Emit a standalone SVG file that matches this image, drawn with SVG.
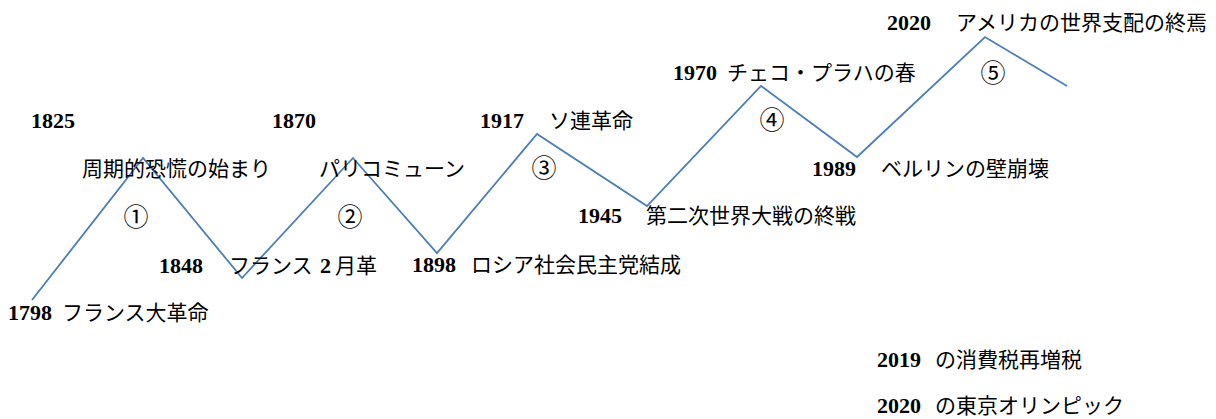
<svg xmlns="http://www.w3.org/2000/svg" width="1216" height="419" viewBox="0 0 1216 419">
<style>
text { font-family: "Liberation Serif", "Noto Sans CJK JP", serif; font-size: 21px; fill: #000; }
.n { font-weight: bold; font-size: 22px; }
.c { text-anchor: middle; font-size: 25px; }
.line { fill: none; stroke: #4a7ebb; stroke-width: 1.8; stroke-linejoin: miter; }
</style>
<rect width="1216" height="419" fill="#fff"/>
<g id="connectors">
<polyline class="line" points="32,300 143,158 242,278 353,158 437,253 537,134 647,206 761,86 857,157 985,37 1067,86"/>
</g>
<g id="n1798"><text x="8" y="320"><tspan class="n">1798</tspan></text><text x="62" y="320">フランス大革命</text></g>
<g id="n1825"><text x="31" y="128"><tspan class="n">1825</tspan></text><text x="82" y="176">周期的恐慌の始まり</text></g>
<g id="c1"><text class="c" x="136" y="226">①</text></g>
<g id="n1848"><text x="159" y="273"><tspan class="n">1848</tspan></text><text x="229" y="273">フランス</text><text x="320" y="273"><tspan class="n">2</tspan></text><text x="335" y="273">月革</text></g>
<g id="n1870"><text x="272" y="128"><tspan class="n">1870</tspan></text><text x="319" y="176">パリコミューン</text></g>
<g id="c2"><text class="c" x="350" y="226">②</text></g>
<g id="n1898"><text x="412" y="272"><tspan class="n">1898</tspan></text><text x="471" y="272">ロシア社会民主党結成</text></g>
<g id="n1917"><text x="480" y="128"><tspan class="n">1917</tspan></text><text x="549" y="128">ソ連革命</text></g>
<g id="c3"><text class="c" x="544" y="177">③</text></g>
<g id="n1945"><text x="578" y="223"><tspan class="n">1945</tspan></text><text x="646" y="223">第二次世界大戦の終戦</text></g>
<g id="n1970"><text x="673" y="80"><tspan class="n">1970</tspan></text><text x="727" y="80">チェコ・プラハの春</text></g>
<g id="c4"><text class="c" x="772" y="129">④</text></g>
<g id="n1989"><text x="812" y="176"><tspan class="n">1989</tspan></text><text x="881" y="176">ベルリンの壁崩壊</text></g>
<g id="n2020a"><text x="887" y="30"><tspan class="n">2020</tspan></text><text x="956" y="30">アメリカの世界支配の終焉</text></g>
<g id="c5"><text class="c" x="993" y="82">⑤</text></g>
<g id="n2019"><text x="877" y="367"><tspan class="n">2019</tspan></text><text x="935" y="367">の消費税再増税</text></g>
<g id="n2020b"><text x="877" y="413"><tspan class="n">2020</tspan></text><text x="935" y="413">の東京オリンピック</text></g>
</svg>
